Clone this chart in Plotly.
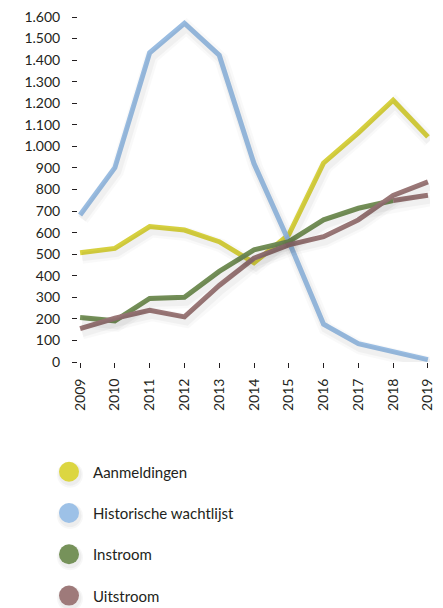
import plotly.graph_objects as go

years = [2009, 2010, 2011, 2012, 2013, 2014, 2015, 2016, 2017, 2018, 2019]
aanmeldingen = [507, 527, 628, 612, 558, 460, 590, 923, 1063, 1214, 1044]
historische_wachtlijst = [682, 901, 1434, 1571, 1423, 920, 560, 175, 85, 46, 11]
instroom = [206, 191, 295, 300, 420, 520, 558, 659, 713, 749, 773]
uitstroom = [155, 203, 240, 209, 355, 481, 543, 581, 659, 772, 835]

series_names = ["Aanmeldingen", "Historische wachtlijst", "Instroom", "Uitstroom"]
series_values = [aanmeldingen, historische_wachtlijst, instroom, uitstroom]
colors = ["#DCD641", "#9DC1E7", "#76925A", "#9E7A7A"]

y_ticks = list(range(0, 1700, 100))

FONT = "Lato"
W, H = 443, 608
L, R, T, B = 78, 13, 17, 246
PW, PH = W - L - R, H - T - B
XR = [2008.94, 2019.06]
YR = [0, 1600]

fig = go.Figure()

# soft shadows drawn on slightly shifted overlay axes
dx_px, dy_px = 2, 4
xu = (XR[1] - XR[0]) / PW
yu = (YR[1] - YR[0]) / PH
for name, vals in zip(series_names, series_values):
    for w, a in [(14, 0.025), (9, 0.035)]:
        fig.add_trace(go.Scatter(x=years, y=vals, mode="lines", xaxis="x2", yaxis="y2",
                                 line=dict(color=f"rgba(0,0,0,{a})", width=w),
                                 showlegend=False, hoverinfo="skip"))

for name, vals, c in zip(series_names, series_values, colors):
    if name == "Instroom":
        fig.add_trace(go.Scatter(x=years[:-1], y=vals[:-1], mode="lines", name=name,
                                 line=dict(color=c, width=5), showlegend=False))
        # last segment appears in the Uitstroom colour in the original
        fig.add_trace(go.Scatter(x=years[-2:], y=vals[-2:], mode="lines", name=name,
                                 line=dict(color=colors[3], width=5), showlegend=False))
    else:
        fig.add_trace(go.Scatter(x=years, y=vals, mode="lines", name=name,
                                 line=dict(color=c, width=5), showlegend=False))

# manual legend
row_y0 = 471.7
row_gap = 41.3
shapes = []
annotations = []
for i, (name, c) in enumerate(zip(series_names, colors)):
    py = row_y0 + i * row_gap
    yp = (H - B - py) / PH
    xp = (69 - L) / PW
    for r, a, off in [(13, 0.03, 3), (11.5, 0.04, 2.5)]:
        shapes.append(dict(type="circle", xref="paper", yref="paper", xsizemode="pixel",
                           ysizemode="pixel", xanchor=xp, yanchor=yp,
                           x0=-r + 1, x1=r + 1, y0=-r - off, y1=r - off,
                           fillcolor=f"rgba(0,0,0,{a})", line=dict(width=0), layer="above"))
    shapes.append(dict(type="circle", xref="paper", yref="paper", xsizemode="pixel",
                       ysizemode="pixel", xanchor=xp, yanchor=yp,
                       x0=-10, x1=10, y0=-10, y1=10,
                       fillcolor=c, line=dict(width=0), layer="above"))
    annotations.append(dict(text=name, xref="paper", yref="paper", x=(91 - L) / PW, y=yp,
                            xanchor="left", yanchor="middle", showarrow=False,
                            font=dict(family=FONT, size=15, color="#231F20")))

fig.update_layout(
    width=W, height=H,
    margin=dict(l=L, r=R, t=T, b=B, pad=0),
    paper_bgcolor="white", plot_bgcolor="white",
    separators=",.",
    font=dict(family=FONT, size=14, color="#231F20"),
    xaxis=dict(range=XR, tickvals=years, ticktext=[str(y) for y in years],
               tickangle=-90, ticks="outside", ticklen=5, tickcolor="#231F20",
               showgrid=False, zeroline=False, showline=False, automargin=False,
               ticklabelstandoff=5),
    yaxis=dict(range=YR, tickvals=y_ticks, tickformat=",d", ticks="outside",
               ticklen=5, tickcolor="#231F20", showgrid=False, zeroline=False,
               showline=False, automargin=False, ticklabelstandoff=9),
    xaxis2=dict(range=[XR[0] - dx_px * xu, XR[1] - dx_px * xu], overlaying="x",
                visible=False),
    yaxis2=dict(range=[YR[0] + dy_px * yu, YR[1] + dy_px * yu], overlaying="y",
                visible=False),
    shapes=shapes,
    annotations=annotations,
    showlegend=False,
    hovermode=False,
)

fig.write_html("out.html",
               config={"displayModeBar": False, "staticPlot": True},
               post_script="document.body.style.margin='0';document.body.style.overflow='hidden';")
